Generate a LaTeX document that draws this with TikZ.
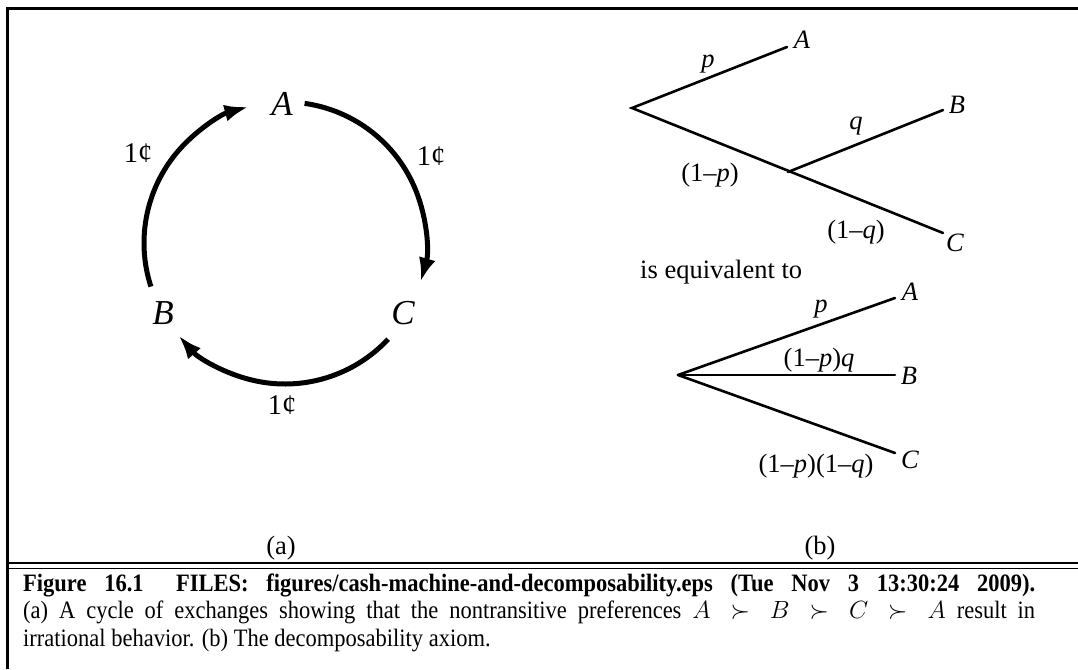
\documentclass[tikz,border=0pt]{standalone}
\usepackage{fontspec}
\setmainfont{Liberation Serif}
\newfontfamily\capfont[FakeStretch=0.9]{Liberation Serif}
\usetikzlibrary{arrows.meta}
\begin{document}
\begin{tikzpicture}[x=1pt,y=-1pt,
  cyc/.style={line width=5pt,-{Latex[length=24pt,width=17pt]}},
  br/.style={line width=2.6pt,line cap=round},
  big/.style={font=\fontsize{35}{40}\selectfont\itshape,inner sep=0pt},
  cent/.style={font=\fontsize{28.5}{32}\selectfont,inner sep=0pt},
  lab/.style={font=\fontsize{26.5}{30}\selectfont,inner sep=0pt},
  itlab/.style={lab,font=\fontsize{26.5}{30}\selectfont\itshape},
  captext/.style={anchor=north west,inner sep=0pt,align=left,font=\capfont\fontsize{25}{27.5}\selectfont},
  frame/.style={line width=3pt}
]
\fill[white] (0,0) rectangle (1078,669);
\useasboundingbox (0,0) rectangle (1078,669);

% frame
\coordinate (f1) at (7,669);
\coordinate (f2) at (7,9);
\coordinate (f3) at (1078,9);
\draw[frame] (f1) -- (f2) -- (f3);
\coordinate (d1) at (7,563);
\coordinate (d2) at (1078,563);
\coordinate (d3) at (7,568.5);
\coordinate (d4) at (1078,568.5);
\draw[line width=1.5pt] (d1) -- (d2);
\draw[line width=1.5pt] (d3) -- (d4);

% (a) cycle
\coordinate (O) at (285,243);
\node[big] (cA) at (282,104) {A};
\node[big] (cB) at (163,313) {B};
\node[big] (cC) at (403,313) {C};
\coordinate (a1) at ([shift={(-82:141)}]O);
\coordinate (a2) at ([shift={(43:141)}]O);
\coordinate (a3) at ([shift={(162:141)}]O);
\draw[cyc] (a1) arc[start angle=-82,end angle=16,radius=141];
\draw[cyc] (a2) arc[start angle=43,end angle=139,radius=141];
\draw[cyc] (a3) arc[start angle=162,end angle=255,radius=141];
\node[cent] (m1) at (138,153) {1¢};
\node[cent] (m2) at (431,156) {1¢};
\node[cent] (m3) at (282,405) {1¢};
\node[lab] (la) at (281,548) {(a)};

% (b) top tree
\coordinate (r1) at (632,108);
\coordinate (s1) at (788,172);
\coordinate (e1A) at (787,47);
\coordinate (e1B) at (943,110);
\coordinate (e1C) at (943,233);
\draw[br] (e1A) -- (r1) -- (e1C);
\draw[br] (s1) -- (e1B);
\node[itlab] (tA) at (802,40) {A};
\node[itlab] (tB) at (957,105) {B};
\node[itlab] (tC) at (955,243) {C};
\node[lab] (tp) at (708,64) {\textit{p}};
\node[lab] (tq) at (856,126) {\textit{q}};
\node[lab] (t1p) at (710,175) {(1–\textit{p})};
\node[lab] (t1q) at (856,232) {(1–\textit{q})};

\node[lab,anchor=west] (eq) at (640,272) {is equivalent to};

% (b) bottom tree
\coordinate (r2) at (678,375);
\coordinate (e2A) at (895,298);
\coordinate (e2B) at (895,375);
\coordinate (e2C) at (895,453);
\draw[br] (r2) -- (e2A);
\draw[br] (r2) -- (e2B);
\draw[br] (r2) -- (e2C);
\node[itlab] (bA) at (910,292) {A};
\node[itlab] (bB) at (909,376) {B};
\node[itlab] (bC) at (910,460) {C};
\node[lab] (bp) at (821,309) {\textit{p}};
\node[lab] (bpq) at (819,360) {(1–\textit{p})\textit{q}};
\node[lab] (bpqq) at (816,466) {(1–\textit{p})(1–\textit{q})};
\node[lab] (lb) at (820,548) {(b)};

% caption
\node[captext] (cap) at (23,573.6) {\makebox[1012pt][s]{\bfseries Figure 16.1\hspace{1.3em}FILES: figures/cash-machine-and-decomposability.eps (Tue Nov 3 13:30:24 2009).}\\
\makebox[1012pt][s]{(a) A cycle of exchanges showing that the nontransitive preferences $A \succ B \succ C \succ A$ result in}\\
irrational behavior. (b) The decomposability axiom.};
\end{tikzpicture}
\end{document}
